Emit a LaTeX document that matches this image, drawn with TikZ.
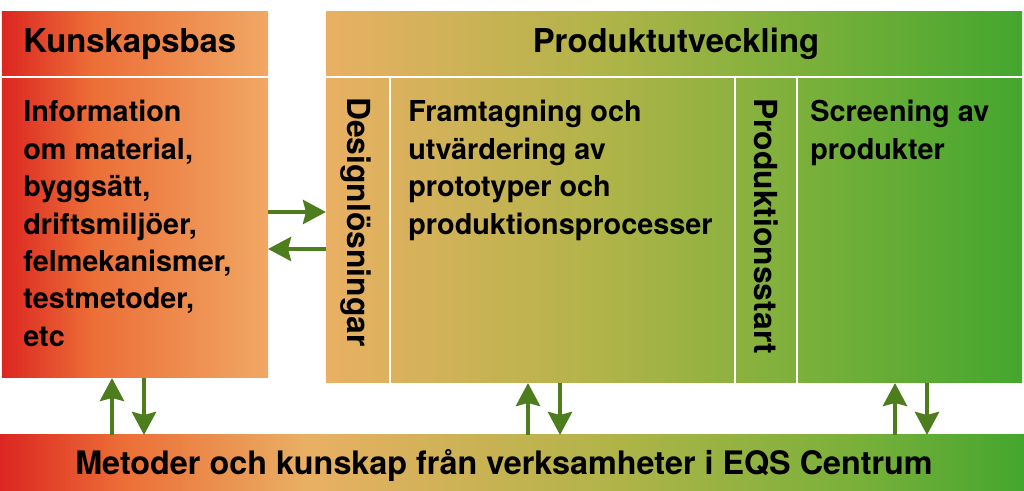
\documentclass[tikz,border=0pt]{standalone}
\usepackage{fontspec}
\setmainfont{TeX Gyre Heros}
\usetikzlibrary{arrows.meta,positioning}

\definecolor{cred}{RGB}{220,38,33}
\definecolor{corange}{RGB}{236,110,55}
\definecolor{clight}{RGB}{240,168,100}
\definecolor{ctan}{RGB}{233,176,100}
\definecolor{colive}{RGB}{176,180,72}
\definecolor{clime}{RGB}{120,176,58}
\definecolor{cgreen}{RGB}{68,166,46}
\definecolor{arrowgreen}{RGB}{78,125,30}

\pgfdeclarehorizontalshading{kbshade}{100bp}{color(0bp)=(cred); color(25bp)=(cred); color(42bp)=(corange); color(75bp)=(clight); color(100bp)=(clight)}
\pgfdeclarehorizontalshading{pushade}{100bp}{color(0bp)=(ctan); color(25bp)=(ctan); color(45bp)=(colive); color(60bp)=(clime); color(75bp)=(cgreen); color(100bp)=(cgreen)}
\pgfdeclarehorizontalshading{barshade}{100bp}{color(0bp)=(cred); color(25bp)=(cred); color(31bp)=(corange); color(40bp)=(ctan); color(55bp)=(colive); color(67bp)=(clime); color(75bp)=(cgreen); color(100bp)=(cgreen)}

\tikzset{
  panel/.style={shade,inner sep=0pt,outer sep=0pt},
  head/.style={font=\fontsize{18.7}{22}\selectfont\bfseries,inner sep=0pt},
  txt/.style={font=\fontsize{16.4}{21.3}\selectfont\bfseries,align=left,inner sep=0pt},
  vtxt/.style={font=\fontsize{18.1}{22}\selectfont\bfseries,rotate=-90,inner sep=0pt},
  bartxt/.style={font=\fontsize{18.4}{22}\selectfont\bfseries,inner sep=0pt},
  divider/.style={white,line width=0.04cm},
  flow/.style={draw=arrowgreen,line width=0.085cm,-{Stealth[length=0.46cm,width=0.48cm,inset=0.06cm]}}
}

\begin{document}
\begin{tikzpicture}
\useasboundingbox (0,0) rectangle (20.48,9.82);

\node[panel,shading=kbshade,minimum width=5.32cm,minimum height=7.32cm] (kb) at (2.70,5.92) {};
\node[panel,shading=pushade,minimum width=13.92cm,minimum height=7.42cm] (pu) at (13.48,5.87) {};
\node[panel,shading=barshade,minimum width=20.48cm,minimum height=1.12cm] (bar) at (10.24,0.56) {};

\draw[divider] (kb.west |- 0,8.28) -- (kb.east |- 0,8.28);
\draw[divider] (pu.west |- 0,8.28) -- (pu.east |- 0,8.28);
\foreach \xs in {7.80,14.70,15.94}
   \draw[divider] (\xs,8.28) -- (\xs,0 |- pu.south);

\node[head,anchor=base west] (kbhead) at (0.46,8.76) {Kunskapsbas};
\node[head,anchor=base] (puhead) at (13.52,8.76) {Produktutveckling};
\node[txt,anchor=north west] (kbtext) at (0.46,7.82) {Information\\om material,\\byggsätt,\\driftsmiljöer,\\felmekanismer,\\testmetoder,\\etc};
\node[txt,anchor=north west] (proto) at (8.16,7.82) {Framtagning och\\utvärdering av\\prototyper och\\produktionsprocesser};
\node[txt,anchor=north west] (screen) at (16.2,7.82) {Screening av\\produkter};
\node[vtxt] (design) at (7.12,5.38) {Designlösningar};
\node[vtxt] (start) at (15.32,5.30) {Produktionsstart};
\node[bartxt,anchor=base] (metod) at (10.08,0.32) {Metoder och kunskap från verksamheter i EQS Centrum};

\draw[flow] (kb.east |- 0,5.58) -- (pu.west |- 0,5.58);
\draw[flow] (pu.west |- 0,4.84) -- (kb.east |- 0,4.84);

\foreach \xu/\xd/\tgt in {2.24/2.88/kb,10.56/11.20/pu,17.90/18.54/pu}
  {\draw[flow] (\xu,0 |- bar.north) -- (\xu,0 |- \tgt.south);
   \draw[flow] (\xd,0 |- \tgt.south) -- (\xd,0 |- bar.north);}

\end{tikzpicture}
\end{document}
